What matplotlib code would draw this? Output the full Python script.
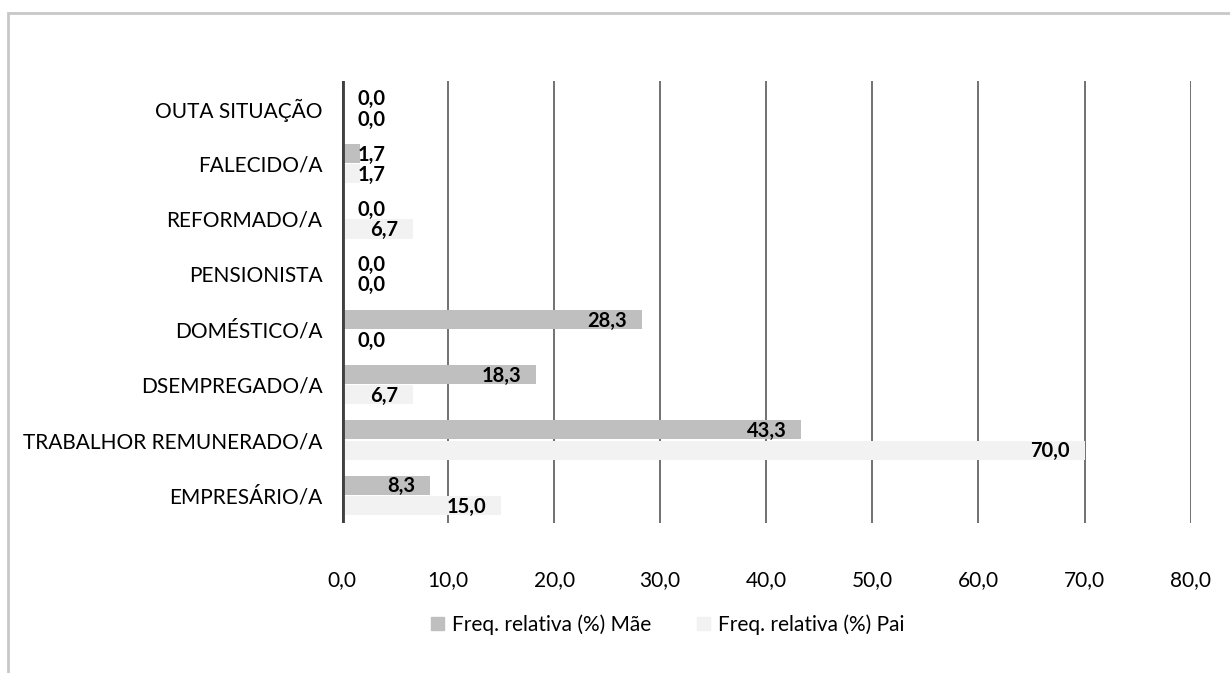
import numpy as np
from matplotlib import pyplot as plt
from matplotlib.patches import Rectangle, Patch

plt.rcParams['font.family'] = ['Lato', 'DejaVu Sans']

categorias = ['EMPRESÁRIO/A', 'TRABALHOR REMUNERADO/A', 'DSEMPREGADO/A',
              'DOMÉSTICO/A', 'PENSIONISTA', 'REFORMADO/A', 'FALECIDO/A',
              'OUTA SITUAÇÃO']
mae = [8.3, 43.3, 18.3, 28.3, 0.0, 0.0, 1.7, 0.0]
pai = [15.0, 70.0, 6.7, 0.0, 0.0, 6.7, 1.7, 0.0]
ticks_x = [0, 10, 20, 30, 40, 50, 60, 70, 80]

cor_mae = '#BFBFBF'
cor_pai = '#F2F2F2'

fig = plt.figure(figsize=(12.3, 6.73), dpi=100)
ax = fig.add_axes([0.278, 0.223, 0.690, 0.657])

y = np.arange(len(categorias))
h = 0.345
ax.barh(y + h / 2 + 0.01, mae, height=h, color=cor_mae, zorder=2)
ax.barh(y - h / 2 - 0.01, pai, height=h, color=cor_pai, zorder=2)


def rotulo(valor, pos):
    txt = f'{valor:.1f}'.replace('.', ',')
    if valor >= 5:
        ax.text(valor - 1.4, pos - 0.02, txt, ha='right', va='center',
                fontsize=14.5, fontweight='bold', zorder=3)
    else:
        ax.text(1.5, pos - 0.02, txt, ha='left', va='center',
                fontsize=14.5, fontweight='bold', zorder=3)


for i in range(len(categorias)):
    rotulo(mae[i], y[i] + h / 2 + 0.01)
    rotulo(pai[i], y[i] - h / 2 - 0.01)

ax.set_xlim(0, 80)
ax.set_ylim(-0.5, len(categorias) - 0.5)
ax.set_xticks(ticks_x)
ax.set_xticklabels([f'{t:.1f}'.replace('.', ',') for t in ticks_x], fontsize=15)
ax.set_yticks(y)
ax.set_yticklabels(categorias, fontsize=15)
ax.tick_params(length=0)
ax.tick_params(axis='y', pad=14)
ax.tick_params(axis='x', pad=34)
ax.grid(axis='x', color='#595959', linewidth=1.2, zorder=1)
ax.axvline(0, color='#404040', linewidth=3.5, zorder=4)
for s in ax.spines.values():
    s.set_visible(False)

fig.legend(handles=[Patch(color=cor_mae, label='Freq. relativa (%) Mãe'),
                    Patch(color=cor_pai, label='Freq. relativa (%) Pai')],
           loc='center', bbox_to_anchor=(0.543, 0.072), ncol=2, frameon=False,
           fontsize=15, handlelength=0.6, handleheight=0.6, handletextpad=0.4,
           columnspacing=2.2)

# moldura cinzenta do gráfico
fig.patches.append(Rectangle((8 / 1230, -0.1), 1.2, 1 - 13 / 673 + 0.1,
                             transform=fig.transFigure, fill=False,
                             edgecolor='#C8C8C8', linewidth=2))

fig.savefig('out.png', dpi=100)
